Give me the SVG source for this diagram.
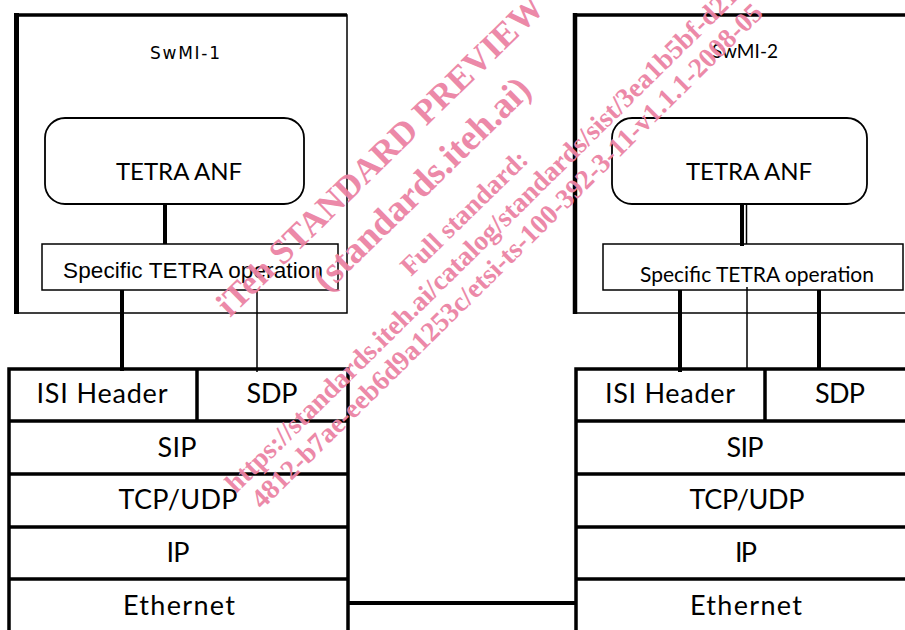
<svg xmlns="http://www.w3.org/2000/svg" width="905" height="630" viewBox="0 0 905 630">
<style>
.thin{fill:none;stroke:#000;stroke-width:1.5}
.thk{fill:none;stroke:#000;stroke-width:4}
.stk{fill:none;stroke:#000;stroke-width:3.5}
.cal{font-family:Lato,"Liberation Sans",sans-serif;fill:#000;text-anchor:middle}
.st{font-size:27px}
.ari{font-family:"Liberation Sans",Arial,sans-serif;fill:#000;text-anchor:middle}
.wm{font-family:"Liberation Serif","Times New Roman",serif;font-weight:bold;fill:#eb83a4}
</style>
<rect width="905" height="630" fill="#fff"/>

<g id="swmi1">
  <rect x="16" y="15" width="331" height="298" class="thin"/>
  <line x1="16.5" y1="13" x2="16.5" y2="314" stroke="#000" stroke-width="5"/>
  <line x1="15" y1="15" x2="347" y2="15" stroke="#000" stroke-width="3.5"/>
  <text x="185" y="59" textLength="70" style="font-family:'DejaVu Sans',sans-serif;font-size:17px;text-anchor:middle">SwMI-1</text>
</g>
<g id="swmi2">
  <path d="M575,313 H910" class="thin"/>
  <line x1="575" y1="13" x2="575" y2="314" stroke="#000" stroke-width="4.5"/>
  <line x1="573" y1="15" x2="910" y2="15" stroke="#000" stroke-width="3.5"/>
  <text x="745" y="58" class="cal" textLength="66" style="font-size:19px">SwMI-2</text>
</g>

<g id="anf1">
  <rect x="45" y="118" width="259" height="86" rx="20" ry="20" fill="#fff" stroke="#000" stroke-width="1.8"/>
  <text x="179" y="180" class="cal" style="font-size:24px">TETRA ANF</text>
</g>
<g id="anf2">
  <rect x="612" y="118" width="255" height="86" rx="20" ry="20" fill="#fff" stroke="#000" stroke-width="1.8"/>
  <text x="749" y="180" class="cal" style="font-size:24px">TETRA ANF</text>
</g>

<g id="op1">
  <rect x="42" y="244" width="296" height="46" fill="#fff" class="thin"/>
  <text x="193" y="278" class="ari" textLength="260" style="font-size:22.5px">Specific TETRA operation</text>
</g>
<g id="op2">
  <rect x="603" y="244" width="300" height="46" fill="#fff" class="thin"/>
  <text x="757" y="282" class="cal" style="font-size:21px">Specific TETRA operation</text>
</g>

<g id="stack1">
  <path d="M9,640 V369 H348 V640 M9,421 H348 M9,474 H348 M9,527 H348 M9,579 H348 M197,369 V421" class="stk"/>
  <text x="102" y="403" class="cal st" textLength="131">ISI Header</text>
  <text x="272" y="403" class="cal st" textLength="51">SDP</text>
  <text x="177" y="457" class="cal st" textLength="39">SIP</text>
  <text x="178" y="509" class="cal st" textLength="119">TCP/UDP</text>
  <text x="178" y="562" class="cal st" textLength="23">IP</text>
  <text x="179" y="615" class="cal st" textLength="112">Ethernet</text>
</g>
<g id="stack2">
  <path d="M576,640 V369 H910 M576,421 H910 M576,474 H910 M576,527 H910 M576,579 H910 M765,369 V421" class="stk"/>
  <text x="670" y="403" class="cal st" textLength="130">ISI Header</text>
  <text x="840" y="403" class="cal st" textLength="50">SDP</text>
  <text x="745" y="457" class="cal st" textLength="37">SIP</text>
  <text x="747" y="509" class="cal st" textLength="115">TCP/UDP</text>
  <text x="746" y="562" class="cal st" textLength="22">IP</text>
  <text x="746" y="615" class="cal st" textLength="112">Ethernet</text>
</g>

<g id="connectors">
  <line x1="165" y1="204" x2="165" y2="244" class="thk"/>
  <line x1="122" y1="290" x2="122" y2="371" class="thk"/>
  <line x1="257" y1="290" x2="257" y2="372" class="thin"/>
  <line x1="742" y1="204" x2="742" y2="246" class="thk"/>
  <line x1="746.5" y1="204" x2="746.5" y2="244" class="thin"/>
  <line x1="680" y1="290" x2="680" y2="372" class="thk"/>
  <line x1="747" y1="287" x2="747" y2="369" class="thin"/>
  <line x1="819" y1="290" x2="819" y2="369" class="thk"/>
  <line x1="349" y1="603" x2="576" y2="603" class="thk"/>
</g>

<g id="watermark" opacity="0.95">
  <text class="wm" style="font-size:35px" transform="translate(230,318) rotate(-44.3)">iTeh STANDARD PREVIEW</text>
  <text class="wm" style="font-size:37px" transform="translate(327,293) rotate(-44.3)">(standards.iteh.ai)</text>
  <text class="wm" style="font-size:27px" transform="translate(411,277) rotate(-44.3)">Full standard:</text>
  <text class="wm" style="font-size:27.5px" transform="translate(236,494) rotate(-44.6)">https://standards.iteh.ai/catalog/standards/sist/3ea1b5bf-d21e-</text>
  <text class="wm" style="font-size:27.5px" transform="translate(262,510) rotate(-44.6)">4812-b7ae-eeb6d9a1253c/etsi-ts-100-392-3-11-v1.1.1-2008-05</text>
</g>
</svg>
